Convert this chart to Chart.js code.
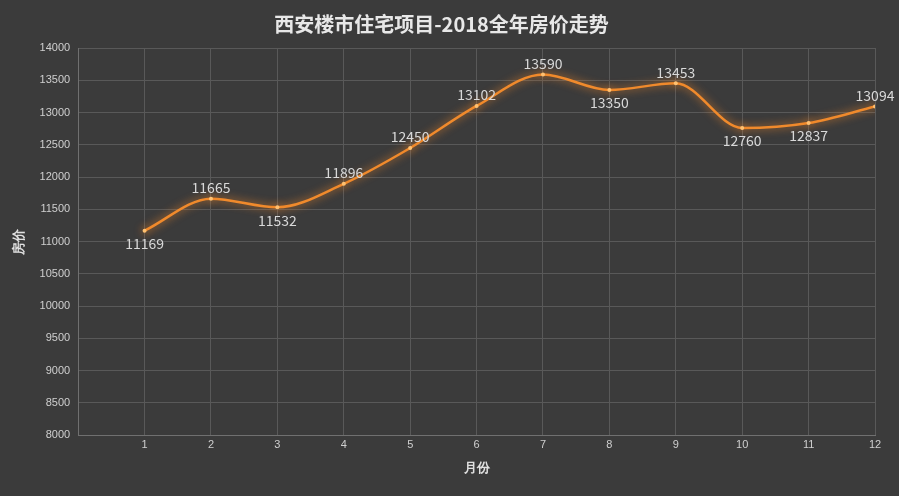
<!DOCTYPE html>
<html>
<head>
<meta charset="utf-8">
<script src="https://cdn.jsdelivr.net/npm/chart.js@4"></script>
<style>
  html, body { margin: 0; padding: 0; background: #3b3b3b; }
  #wrap { width: 899px; height: 496px; }
</style>
</head>
<body>
<div id="wrap"><canvas id="priceChart"></canvas></div>
<script>
// 月份和房价
const months = [1, 2, 3, 4, 5, 6, 7, 8, 9, 10, 11, 12];
const prices = [11169, 11665, 11532, 11896, 12450, 13102, 13590, 13350, 13453, 12760, 12837, 13094];
const labelAbove = [false, true, false, true, true, true, true, false, true, false, false, true];

// 数据标签插件
const pointLabels = {
  id: 'pointLabels',
  afterDatasetsDraw(chart) {
    const ctx = chart.ctx;
    const meta = chart.getDatasetMeta(0);
    ctx.save();
    ctx.font = '14px "Noto Sans CJK SC", sans-serif';
    ctx.fillStyle = '#d9d9d9';
    ctx.textAlign = 'center';
    meta.data.forEach((pt, i) => {
      ctx.textBaseline = labelAbove[i] ? 'bottom' : 'top';
      const x = Math.min(pt.x, chart.width - 24);
      ctx.fillText(prices[i], x, labelAbove[i] ? pt.y - 4 : pt.y + 6);
    });
    ctx.restore();
  }
};

// 发光线条
const glow = {
  id: 'glow',
  beforeDatasetDraw(chart) {
    chart.ctx.save();
    chart.ctx.shadowColor = 'rgba(255,140,40,0.9)';
    chart.ctx.shadowBlur = 8;
  },
  afterDatasetDraw(chart) { chart.ctx.restore(); }
};

const ctx = document.getElementById('priceChart').getContext('2d');
new Chart(ctx, {
  type: 'line',
  data: {
    datasets: [{
      data: months.map((m, i) => ({ x: m, y: prices[i] })),
      borderColor: '#f08a2c',
      borderWidth: 2.5,
      pointRadius: 2,
      pointBackgroundColor: '#ffc070',
      pointBorderWidth: 0,
      cubicInterpolationMode: 'monotone',
      tension: 0.4
    }]
  },
  options: {
    responsive: true,
    maintainAspectRatio: false,
    animation: false,
    layout: { padding: { left: 8, right: 24, top: 4, bottom: 16 } },
    plugins: {
      legend: { display: false },
      tooltip: { enabled: false },
      title: {
        display: true,
        text: '西安楼市住宅项目-2018全年房价走势',
        color: '#e8e8e8',
        font: { family: '"Noto Sans CJK SC", serif', size: 20, weight: 'bold' },
        padding: { top: 8, bottom: 12 }
      }
    },
    scales: {
      x: {
        type: 'linear',
        min: 0, max: 12,
        ticks: {
          stepSize: 1,
          color: '#cfcfcf',
          font: { size: 11 },
          callback: v => v === 0 ? '' : v
        },
        grid: { color: '#595959', drawTicks: false },
        border: { color: '#707070' },
        title: { display: true, text: '月份', color: '#e0e0e0', font: { size: 13, weight: 'bold' }, padding: { top: 6 } }
      },
      y: {
        min: 8000, max: 14000,
        ticks: { stepSize: 500, color: '#cfcfcf', font: { size: 11 }, padding: 8, callback: v => v },
        grid: { color: '#595959', drawTicks: false },
        border: { color: '#707070' },
        title: { display: true, text: '房价', color: '#e0e0e0', font: { size: 13, weight: 'bold' } }
      }
    }
  },
  plugins: [glow, pointLabels]
});
</script>
</body>
</html>
